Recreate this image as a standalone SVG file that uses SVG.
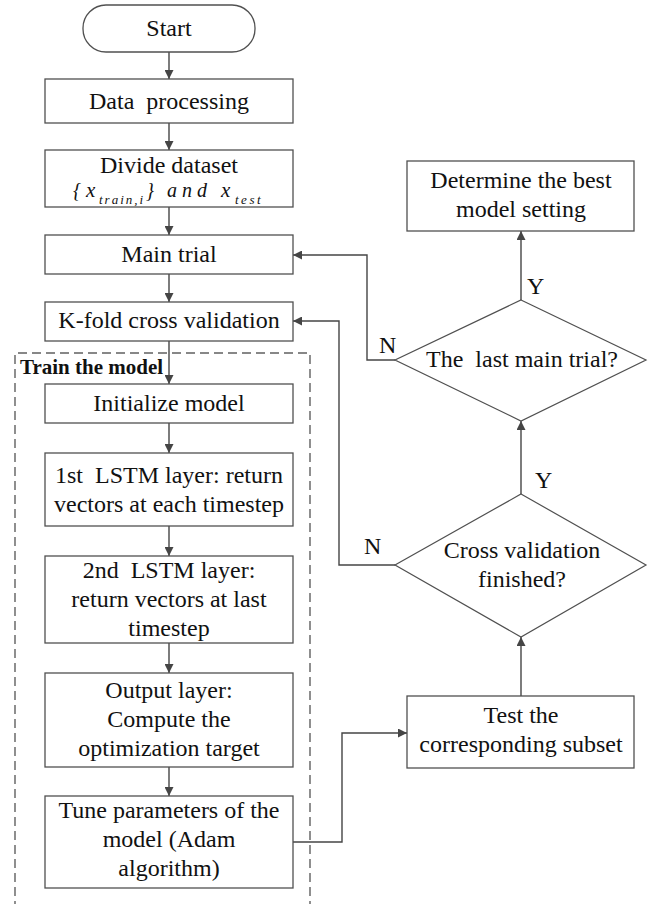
<svg xmlns="http://www.w3.org/2000/svg" width="650" height="904" viewBox="0 0 650 904" font-family="Liberation Serif, Times New Roman, serif">
  <style>
    .box { fill: #ffffff; stroke: #505050; stroke-width: 1.3; }
    .dia { fill: #ffffff; stroke: #505050; stroke-width: 1.2; }
    .lbl { font-size: 24px; fill: #111111; text-anchor: middle; }
    .yn { font-size: 24px; fill: #111111; }
    .math { font-style: italic; fill: #111111; }
    .wire { fill: none; stroke: #454545; stroke-width: 1.4; }
    .frame { fill: none; stroke: #606060; stroke-width: 1.4; stroke-dasharray: 9 5; }
  </style>
  <defs>
    <marker id="arrow" viewBox="0 0 10 10" refX="10" refY="5" markerWidth="9" markerHeight="9" markerUnits="userSpaceOnUse" orient="auto">
      <path d="M0,0 L10,5 L0,10 z" fill="#454545"/>
    </marker>
  </defs>

  <rect width="650" height="904" fill="#ffffff"/>

  <!-- dashed training frame -->
  <g id="train-frame">
    <path class="frame" d="M15,910 V353 H310 V910"/>
    <text x="20" y="374" font-size="21" font-weight="bold" fill="#111111">Train the model</text>
  </g>

  <!-- connectors -->
  <g id="connectors">
    <line class="wire" x1="169" y1="52" x2="169" y2="79" marker-end="url(#arrow)"/>
    <line class="wire" x1="169" y1="123" x2="169" y2="150" marker-end="url(#arrow)"/>
    <line class="wire" x1="169" y1="207" x2="169" y2="235" marker-end="url(#arrow)"/>
    <line class="wire" x1="169" y1="274" x2="169" y2="302" marker-end="url(#arrow)"/>
    <line class="wire" x1="169" y1="341" x2="169" y2="384" marker-end="url(#arrow)"/>
    <line class="wire" x1="169" y1="423" x2="169" y2="453" marker-end="url(#arrow)"/>
    <line class="wire" x1="169" y1="526" x2="169" y2="556" marker-end="url(#arrow)"/>
    <line class="wire" x1="169" y1="643" x2="169" y2="673" marker-end="url(#arrow)"/>
    <line class="wire" x1="169" y1="767" x2="169" y2="796" marker-end="url(#arrow)"/>
    <polyline class="wire" points="293,842 342,842 342,733 407,733" marker-end="url(#arrow)"/>
    <line class="wire" x1="521" y1="696" x2="521" y2="637" marker-end="url(#arrow)"/>
    <line class="wire" x1="521" y1="494" x2="521" y2="421" marker-end="url(#arrow)"/>
    <line class="wire" x1="521" y1="300" x2="521" y2="231" marker-end="url(#arrow)"/>
    <polyline class="wire" points="395,565 339,565 339,321 293,321" marker-end="url(#arrow)"/>
    <polyline class="wire" points="395,360 367,360 367,255 293,255" marker-end="url(#arrow)"/>
    <text class="yn" x="527" y="294">Y</text>
    <text class="yn" x="535" y="488">Y</text>
    <text class="yn" x="379" y="353">N</text>
    <text class="yn" x="364" y="554">N</text>
  </g>

  <g id="start">
    <rect class="box" x="83" y="5" width="172" height="47" rx="23" ry="23"/>
    <text class="lbl" x="169" y="36">Start</text>
  </g>

  <g id="data-processing">
    <rect class="box" x="45" y="79" width="248" height="44"/>
    <text class="lbl" x="169" y="109" xml:space="preserve">Data  processing</text>
  </g>

  <g id="divide-dataset">
    <rect class="box" x="45" y="150" width="248" height="57"/>
    <text class="lbl" x="169" y="173">Divide dataset</text>
    <!-- {x_train,i} and x_test -->
    <text class="math" font-style="normal" x="73" y="197" font-size="20">{</text>
    <text class="math" x="86" y="197" font-size="21">x</text>
    <text class="math" x="99" y="204" font-size="13" letter-spacing="2">train,i</text>
    <text class="math" font-style="normal" x="146" y="197" font-size="20">}</text>
    <text class="math" x="167" y="197" font-size="20" letter-spacing="5">and</text>
    <text class="math" x="221" y="197" font-size="21">x</text>
    <text class="math" x="235" y="204" font-size="13" letter-spacing="2.5">test</text>
  </g>

  <g id="main-trial">
    <rect class="box" x="45" y="235" width="248" height="39"/>
    <text class="lbl" x="169" y="262">Main trial</text>
  </g>

  <g id="k-fold">
    <rect class="box" x="45" y="302" width="248" height="39"/>
    <text class="lbl" x="169" y="328">K-fold cross validation</text>
  </g>

  <g id="initialize-model">
    <rect class="box" x="45" y="384" width="248" height="39"/>
    <text class="lbl" x="169" y="411">Initialize model</text>
  </g>

  <g id="lstm-1">
    <rect class="box" x="45" y="453" width="248" height="73"/>
    <text class="lbl" x="169" y="483" xml:space="preserve">1st  LSTM layer: return</text>
    <text class="lbl" x="169" y="512">vectors at each timestep</text>
  </g>

  <g id="lstm-2">
    <rect class="box" x="45" y="556" width="248" height="87"/>
    <text class="lbl" x="169" y="578" xml:space="preserve">2nd  LSTM layer:</text>
    <text class="lbl" x="169" y="607">return vectors at last</text>
    <text class="lbl" x="169" y="636">timestep</text>
  </g>

  <g id="output-layer">
    <rect class="box" x="45" y="673" width="248" height="94"/>
    <text class="lbl" x="169" y="698">Output layer:</text>
    <text class="lbl" x="169" y="727">Compute the</text>
    <text class="lbl" x="169" y="756">optimization target</text>
  </g>

  <g id="tune-parameters">
    <rect class="box" x="45" y="796" width="248" height="92"/>
    <text class="lbl" x="169" y="818">Tune parameters of the</text>
    <text class="lbl" x="169" y="847">model (Adam</text>
    <text class="lbl" x="169" y="876">algorithm)</text>
  </g>

  <g id="test-subset">
    <rect class="box" x="407" y="696" width="227" height="72"/>
    <text class="lbl" x="521" y="723">Test the</text>
    <text class="lbl" x="521" y="752">corresponding subset</text>
  </g>

  <g id="cv-finished">
    <polygon class="dia" points="521,494 646,565 521,637 395,565"/>
    <text class="lbl" x="522" y="558">Cross validation</text>
    <text class="lbl" x="522" y="587">finished?</text>
  </g>

  <g id="last-main-trial">
    <polygon class="dia" points="521,300 646,360 521,421 395,360"/>
    <text class="lbl" x="522" y="367" xml:space="preserve">The  last main trial?</text>
  </g>

  <g id="best-setting">
    <rect class="box" x="407" y="161" width="227" height="70"/>
    <text class="lbl" x="521" y="188">Determine the best</text>
    <text class="lbl" x="521" y="217">model setting</text>
  </g>
</svg>
